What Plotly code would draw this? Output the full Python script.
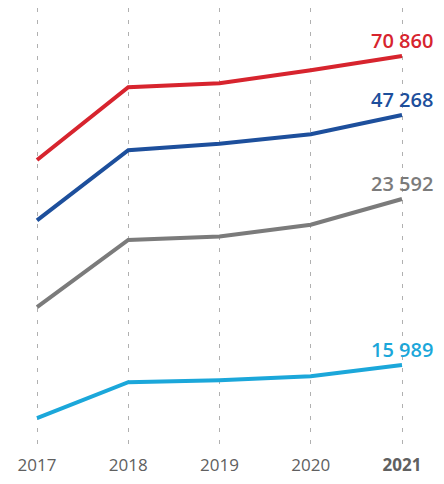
import plotly.graph_objects as go

years = [2017, 2018, 2019, 2020, 2021]
tick_labels = ["2017", "2018", "2019", "2020", "<b>2021</b>"]

red_vals = [55000, 66100, 66700, 68700, 70860]
blue_vals = [36000, 43500, 44200, 45200, 47268]
gray_vals = [19000, 21850, 22000, 22500, 23592]
cyan_vals = [12000, 14700, 14850, 15150, 15989]

series = [
    ("y", red_vals, "#d7242e", [10775, 78180]),
    ("y2", blue_vals, "#1d4f9c", [11423, 58717]),
    ("y3", gray_vals, "#7b7b7b", [12925, 31710]),
    ("y4", cyan_vals, "#1ba7da", [9614, 42764]),
]

fig = go.Figure()
annotations = []
for yref, vals, color, rng in series:
    fig.add_trace(go.Scatter(x=years, y=vals, yaxis=yref, mode="lines",
                             line=dict(color=color, width=4), hoverinfo="skip"))
    annotations.append(dict(x=years[-1], y=vals[-1], xref="x", yref=yref,
                            text=f"{vals[-1]:,}".replace(",", " "),
                            showarrow=False, xanchor="center", yanchor="bottom",
                            yshift=0, font=dict(family="Open Sans", size=20, color=color,
                                                weight=600)))

layout_axes = {}
names = ["yaxis", "yaxis2", "yaxis3", "yaxis4"]
for i, (yref, vals, color, rng) in enumerate(series):
    ax = dict(range=rng, visible=False, showgrid=False, zeroline=False, domain=[0, 1])
    if i > 0:
        ax["overlaying"] = "y"
    layout_axes[names[i]] = ax

fig.update_layout(
    width=444, height=484,
    margin=dict(l=0, r=0, t=0, b=42),
    paper_bgcolor="white", plot_bgcolor="white",
    showlegend=False,
    xaxis=dict(range=[2016.682, 2021.548], tickmode="array", tickvals=years,
               ticktext=tick_labels, showgrid=True, gridcolor="#b0b0b0",
               griddash="4px,8px", gridwidth=1, zeroline=False, showline=False,
               ticks="", ticklabelstandoff=3,
               tickfont=dict(family="Open Sans", size=17, color="#606060")),
    annotations=annotations,
    **layout_axes,
)

fig.write_html("out.html")
